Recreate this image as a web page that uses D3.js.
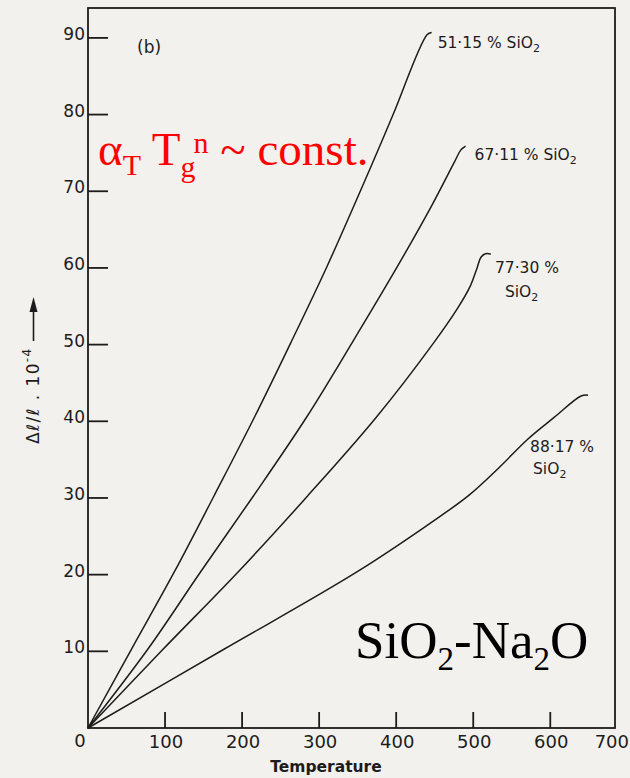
<!DOCTYPE html>
<html>
<head>
<meta charset="utf-8">
<script src="https://cdn.jsdelivr.net/npm/d3@7"></script>
<style>
  html, body { margin: 0; padding: 0; background: #f3f1ed; }
  svg { display: block; }
</style>
</head>
<body>
<svg id="chart" width="630" height="778"></svg>
<script>
// ---------------- data ----------------
const xTickValues = [100, 200, 300, 400, 500, 600];
const xTickLabels = ["0", "100", "200", "300", "400", "500", "600", "700"];
const yTickValues = [10, 20, 30, 40, 50, 60, 70, 80, 90];
const yTickLabels = ["10", "20", "30", "40", "50", "60", "70", "80", "90"];

// Temperature (°C), Δl/l · 10^-4
const series5115 = [[0,0],[56.5,10.3],[112,20.35],[163.5,30.26],[215.5,40.43],[263,50.2],[310.5,60.26],[368,73.4],[396,80],[440,90.4],[446,90.7]];
const series6711 = [[0,0],[77.8,10.3],[146,20.35],[214.7,30.26],[283,40.43],[342.5,50.2],[402,60.26],[447,68.3],[476,73.9],[484,75.4],[490,75.9]];
const series7730 = [[0,0],[97.7,10.3],[194.8,20.35],[285,30.26],[373.4,40.43],[448.4,50.2],[480,54.8],[496,57.6],[505,60],[510,61.4],[516,61.85],[523,61.8]];
const series8817 = [[0,0],[177,10.3],[349,20.35],[457,27.6],[495,30.4],[535,34.1],[570,37.6],[605,40.5],[640,43.3],[649,43.4]];

const seriesNames = ["51·15 %", "67·11 %", "77·30 %", "88·17 %"];
const seriesList = [series5115, series6711, series7730, series8817];

// ---------------- layout ----------------
const svg = d3.select("#chart");
const plot = { left: 88, right: 615, top: 8, bottom: 728 };
const xMax = 684, yMax = 93.9;

const x = d3.scaleLinear().domain([0, xMax]).range([plot.left, plot.right]);
const y = d3.scaleLinear().domain([0, yMax]).range([plot.bottom, plot.top]);

const ink = "#1c1c1c";
const sans = "'DejaVu Sans', sans-serif";

// frame
svg.append("rect")
  .attr("x", plot.left).attr("y", plot.top)
  .attr("width", plot.right - plot.left).attr("height", plot.bottom - plot.top)
  .attr("fill", "none").attr("stroke", ink).attr("stroke-width", 1.8);

// y ticks
const gy = svg.append("g");
gy.selectAll("line").data(yTickValues).join("line")
  .attr("x1", plot.left).attr("x2", plot.left + 20)
  .attr("y1", d => y(d)).attr("y2", d => y(d))
  .attr("stroke", ink).attr("stroke-width", 1.8);
gy.selectAll("text").data(yTickValues).join("text")
  .attr("x", plot.left - 3).attr("y", d => y(d) + 2)
  .attr("text-anchor", "end")
  .attr("font-family", sans).attr("font-size", 17).attr("fill", ink)
  .text((d, i) => yTickLabels[i]);

// x ticks
const gx = svg.append("g");
gx.selectAll("line").data(xTickValues).join("line")
  .attr("x1", d => x(d)).attr("x2", d => x(d))
  .attr("y1", plot.bottom).attr("y2", plot.bottom - 16)
  .attr("stroke", ink).attr("stroke-width", 1.8);
const last = xTickLabels.length - 1;
const xLabelPos = xTickLabels.map((t, i) => {
  if (i === 0) return plot.left - 8;
  if (i === last) return 629;
  return x(xTickValues[i - 1]) + 1;
});
gx.selectAll("text").data(xTickLabels).join("text")
  .attr("x", (d, i) => xLabelPos[i])
  .attr("y", (d, i) => i === 0 ? plot.bottom + 19 : plot.bottom + 20)
  .attr("text-anchor", (d, i) => i === last ? "end" : "middle")
  .attr("font-family", sans).attr("font-size", 18).attr("fill", ink)
  .text(d => d);

// axis titles
svg.append("text")
  .attr("x", 326).attr("y", 772)
  .attr("text-anchor", "middle")
  .attr("font-family", sans).attr("font-size", 15.5).attr("font-weight", "bold")
  .attr("fill", ink).text("Temperature");

const yt = svg.append("text")
  .attr("transform", "translate(39,444) rotate(-90)")
  .attr("font-family", sans).attr("font-size", 17).attr("letter-spacing", 1.4).attr("fill", ink);
yt.append("tspan").text("Δℓ/ℓ . 10");
yt.append("tspan").attr("font-size", 12).attr("dy", -8).text("-4");
svg.append("line")
  .attr("x1", 33.5).attr("x2", 33.5).attr("y1", 341).attr("y2", 310)
  .attr("stroke", ink).attr("stroke-width", 1.6);
svg.append("path")
  .attr("d", "M33.5,297 L29.5,312 L37.5,312 Z").attr("fill", ink);

// panel label
svg.append("text")
  .attr("x", 137).attr("y", 53)
  .attr("font-family", sans).attr("font-size", 17).attr("fill", ink)
  .text("(b)");

// curves
const line = d3.line()
  .x(d => x(d[0])).y(d => y(d[1]))
  .curve(d3.curveCatmullRom.alpha(0.5));
svg.append("g").selectAll("path").data(seriesList).join("path")
  .attr("d", line)
  .attr("fill", "none").attr("stroke", ink).attr("stroke-width", 1.5);

// curve labels (offsets relative to each curve's end point)
const labelLayout = [
  [{ dx: 6,  dy: 15, t: seriesNames[0] + " SiO", sub: true }],
  [{ dx: 9,  dy: 14, t: seriesNames[1] + " SiO", sub: true }],
  [{ dx: 4,  dy: 19, t: seriesNames[2], sub: false }, { dx: 14, dy: 43, t: "SiO", sub: true }],
  [{ dx: -58, dy: 57, t: seriesNames[3], sub: false }, { dx: -55, dy: 79, t: "SiO", sub: true }]
];
seriesList.forEach((s, i) => {
  const end = s[s.length - 1];
  labelLayout[i].forEach(l => {
    const t = svg.append("text")
      .attr("x", x(end[0]) + l.dx).attr("y", y(end[1]) + l.dy)
      .attr("font-family", sans).attr("font-size", 15.5).attr("fill", ink);
    t.append("tspan").text(l.t);
    if (l.sub) t.append("tspan").attr("font-size", 11).attr("dy", 4).text("2");
  });
});

// red annotation
const serif = "'Liberation Serif', 'Times New Roman', serif";
const red = svg.append("text")
  .attr("x", 98).attr("y", 165)
  .attr("font-family", serif).attr("font-size", 47).attr("fill", "#ff0000");
red.append("tspan").text("α");
red.append("tspan").attr("font-size", 30).attr("dy", 10).text("T");
red.append("tspan").attr("dy", -10).text(" T");
red.append("tspan").attr("font-size", 30).attr("dy", 12).text("g");
red.append("tspan").attr("font-size", 30).attr("dx", -2).attr("dy", -24).text("n");
red.append("tspan").attr("dy", 12).text(" ~ const.");

// system annotation
const sys = svg.append("text")
  .attr("x", 355).attr("y", 658)
  .attr("font-family", serif).attr("font-size", 53).attr("fill", "#000");
sys.append("tspan").text("SiO");
sys.append("tspan").attr("font-size", 33).attr("dy", 12).text("2");
sys.append("tspan").attr("dy", -12).text("-Na");
sys.append("tspan").attr("font-size", 33).attr("dy", 12).text("2");
sys.append("tspan").attr("dy", -12).text("O");
</script>
</body>
</html>
